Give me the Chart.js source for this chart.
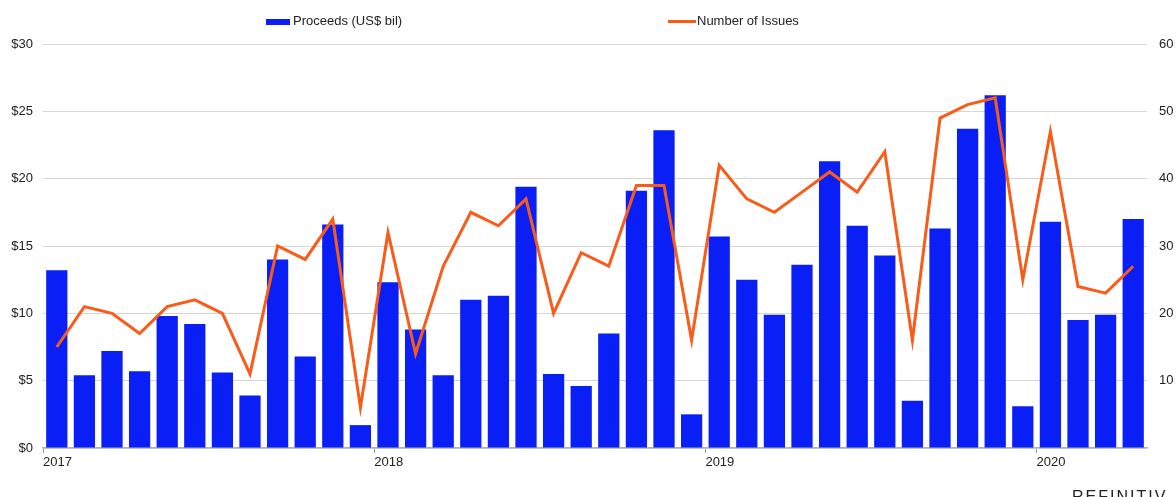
<!DOCTYPE html>
<html lang="en">
  <head>
    <meta charset="UTF-8" />
    <title>Proceeds and Number of Issues</title>
    <script src="https://cdn.jsdelivr.net/npm/chart.js"></script>
    <style>
      html, body { margin: 0; padding: 0; background: #fff; overflow: hidden; }
      #wrap { position: relative; width: 1176px; height: 497px; font-family: "Liberation Sans", Arial, sans-serif; }
      .legend { position: absolute; top: 13px; font-size: 13px; color: #222; white-space: nowrap; }
      .swatch { position: absolute; }
      #brand { position: absolute; left: 1072px; top: 488px; font-size: 16px; letter-spacing: 2px; color: #222; }
    </style>
  </head>
  <body>
    <div id="wrap">
      <canvas id="chart" width="1176" height="497"></canvas>
      <div class="swatch" style="left:266px; top:19px; width:24px; height:6px; background:#0a1ff5"></div>
      <div class="legend" style="left:293px">Proceeds (US$ bil)</div>
      <div class="swatch" style="left:668px; top:20px; width:28px; height:3px; background:#f95c19"></div>
      <div class="legend" style="left:697px">Number of Issues</div>
      <div id="brand">REFINITIV</div>
    </div>

    <script>
      // monthly data, Jan 2017 - Apr 2020
      const years = ["2017", "2018", "2019", "2020"];
      const proceeds = [
        13.2, 5.4, 7.2, 5.7, 9.8, 9.2, 5.6, 3.9, 14.0, 6.8, 16.6, 1.7,
        12.3, 8.8, 5.4, 11.0, 11.3, 19.4, 5.5, 4.6, 8.5, 19.1, 23.6, 2.5,
        15.7, 12.5, 9.9, 13.6, 21.3, 16.5, 14.3, 3.5, 16.3, 23.7, 26.2, 3.1,
        16.8, 9.5, 9.9, 17.0,
      ];
      const issues = [
        15, 21, 20, 17, 21, 22, 20, 11, 30, 28, 34, 6,
        32, 14, 27, 35, 33, 37, 20, 29, 27, 39, 39, 16,
        42, 37, 35, 38, 41, 38, 44, 16, 49, 51, 52, 25,
        47, 24, 23, 27,
      ];
      const leftTicks = [0, 5, 10, 15, 20, 25, 30];
      const rightTicks = [0, 10, 20, 30, 40, 50, 60];

      // month i sits in the middle of slot [i, i+1]
      const barPoints = proceeds.map((v, i) => ({ x: i + 0.5, y: v }));
      const linePoints = issues.map((v, i) => ({ x: i + 0.5, y: v }));

      const tickFont = { family: "Liberation Sans", size: 13 };

      const ctx = document.getElementById("chart").getContext("2d");
      new Chart(ctx, {
        type: "bar",
        data: {
          datasets: [
            {
              type: "line",
              label: "Number of Issues",
              data: linePoints,
              yAxisID: "y1",
              borderColor: "#f95c19",
              borderWidth: 3,
              pointRadius: 0,
              tension: 0,
              order: 0,
            },
            {
              label: "Proceeds (US$ bil)",
              data: barPoints,
              yAxisID: "y",
              backgroundColor: "#0a1ff5",
              barPercentage: 0.77,
              categoryPercentage: 1,
              order: 1,
            },
          ],
        },
        options: {
          responsive: false,
          animation: false,
          layout: { padding: { top: 44, left: 0, right: 0, bottom: 0 } },
          plugins: { legend: { display: false }, tooltip: { enabled: false } },
          scales: {
            x: {
              type: "linear",
              offset: false,
              min: 0,
              max: proceeds.length,
              afterBuildTicks: (axis) => {
                axis.ticks = years.map((y, i) => ({ value: i * 12 }));
              },
              afterFit: (axis) => { axis.height = 49; },
              ticks: {
                align: "start",
                padding: 2,
                color: "#222",
                font: tickFont,
                autoSkip: false,
                maxRotation: 0,
                callback: (v) => years[v / 12],
              },
              grid: { offset: false, drawOnChartArea: false, drawTicks: true, tickLength: 5, color: "#999" },
              border: { color: "#b0b0b0", width: 1.5 },
            },
            y: {
              position: "left",
              min: 0,
              max: 30,
              afterBuildTicks: (axis) => {
                axis.ticks = leftTicks.map((v) => ({ value: v }));
              },
              afterFit: (axis) => { axis.width = 43; },
              ticks: {
                padding: 10,
                color: "#222",
                font: tickFont,
                callback: (v) => "$" + v,
              },
              grid: { color: "#d6d6d6", drawTicks: false },
              border: { display: false },
            },
            y1: {
              position: "right",
              min: 0,
              max: 60,
              afterBuildTicks: (axis) => {
                axis.ticks = rightTicks.map((v) => ({ value: v }));
              },
              afterFit: (axis) => { axis.width = 29; },
              ticks: {
                padding: 12,
                color: "#222",
                font: tickFont,
                callback: (v) => (v === 0 ? "" : v),
              },
              grid: { drawOnChartArea: false, drawTicks: false },
              border: { display: false },
            },
          },
        },
      });
    </script>
  </body>
</html>
